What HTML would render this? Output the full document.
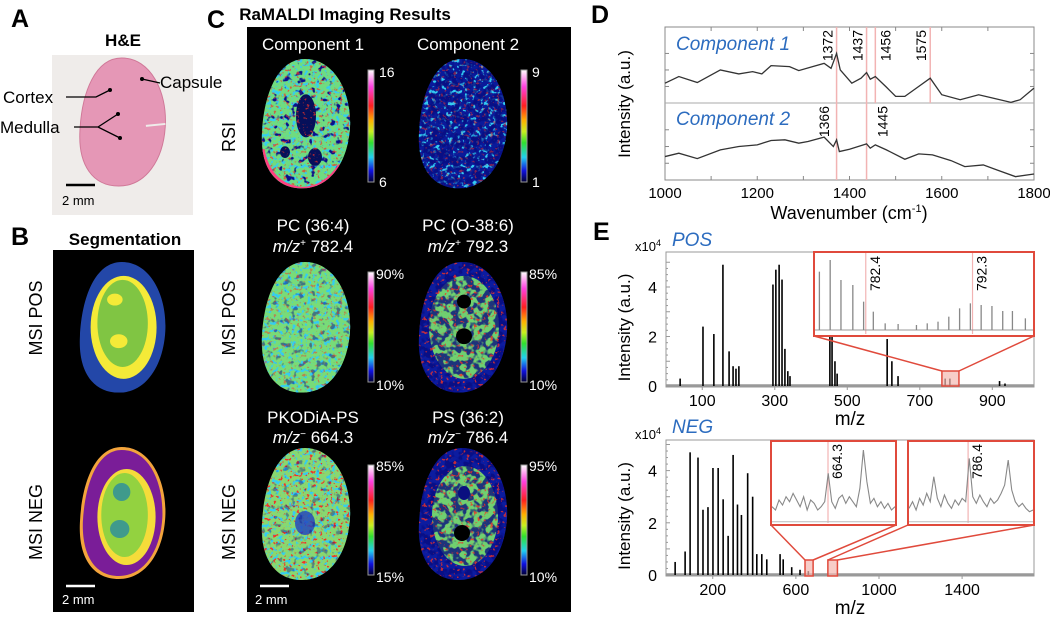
<!DOCTYPE html>
<html><head><meta charset="utf-8"><style>
html,body{margin:0;padding:0;background:#fff;}
svg{display:block;font-family:"Liberation Sans",Arial,sans-serif;}
</style></head><body>
<svg id="fig" width="1050" height="617" viewBox="0 0 1050 617" xmlns="http://www.w3.org/2000/svg">
<defs>
<clipPath id="kid" clipPathUnits="userSpaceOnUse"><path d="M45,0 C75,0 92,35 90,70 C88,105 70,132 42,132 C15,132 0,110 2,75 C4,35 18,0 45,0 Z"/></clipPath>
<linearGradient id="cbar" x1="0" y1="0" x2="0" y2="1">
<stop offset="0" stop-color="#ffffff"/><stop offset="0.15" stop-color="#ff40e0"/><stop offset="0.32" stop-color="#ff2020"/><stop offset="0.45" stop-color="#ffb000"/><stop offset="0.55" stop-color="#c8f020"/><stop offset="0.65" stop-color="#30e030"/><stop offset="0.78" stop-color="#20d0f0"/><stop offset="0.9" stop-color="#1010e0"/><stop offset="1" stop-color="#000033"/>
</linearGradient>
<filter id="nBlue" x="0" y="0" width="1" height="1" color-interpolation-filters="sRGB"><feTurbulence type="fractalNoise" baseFrequency="0.16" numOctaves="2" seed="3"/><feColorMatrix type="matrix" values="0 0 0 0 0.04  0 0 0 0 0.06  0 0 0 0 0.55  9 0 0 0 -5.4"/></filter>
<filter id="nBlueH" x="0" y="0" width="1" height="1" color-interpolation-filters="sRGB"><feTurbulence type="fractalNoise" baseFrequency="0.14" numOctaves="2" seed="7"/><feColorMatrix type="matrix" values="0 0 0 0 0.03  0 0 0 0 0.05  0 0 0 0 0.5  9 0 0 0 -4.1"/></filter>
<filter id="nRed" x="0" y="0" width="1" height="1" color-interpolation-filters="sRGB"><feTurbulence type="fractalNoise" baseFrequency="0.3" numOctaves="2" seed="11"/><feColorMatrix type="matrix" values="0 0 0 0 0.95  0 0 0 0 0.2  0 0 0 0 0.15  10 0 0 0 -6.2"/></filter>
<filter id="nCyan" x="0" y="0" width="1" height="1" color-interpolation-filters="sRGB"><feTurbulence type="fractalNoise" baseFrequency="0.25" numOctaves="2" seed="5"/><feColorMatrix type="matrix" values="0 0 0 0 0.2  0 0 0 0 0.8  0 0 0 0 0.95  9 0 0 0 -5.0"/></filter>
<filter id="nGreen" x="0" y="0" width="1" height="1" color-interpolation-filters="sRGB"><feTurbulence type="fractalNoise" baseFrequency="0.2" numOctaves="2" seed="9"/><feColorMatrix type="matrix" values="0 0 0 0 0.4  0 0 0 0 0.9  0 0 0 0 0.2  9 0 0 0 -4.8"/></filter>
</defs>

<!-- Panel A -->
<text x="11" y="27" font-size="25" font-weight="bold">A</text>
<text x="123" y="46" font-size="17" font-weight="bold" text-anchor="middle">H&amp;E</text>
<rect x="52" y="55" width="141" height="160" fill="#efecea"/>
<g transform="translate(78,58) scale(0.97,0.97)">
<path d="M45,0 C75,0 92,35 90,70 C88,105 70,132 42,132 C15,132 0,110 2,75 C4,35 18,0 45,0 Z" fill="#e597b6" stroke="#d07898" stroke-width="1"/>
<path d="M70,70 L90,68" stroke="#efecea" stroke-width="2"/>
</g>
<g stroke="#000" stroke-width="1.3" fill="none">
<path d="M66,97 L96,97 L110,90"/><path d="M142,79 L160,83"/><path d="M74,127 L98,127 L118,114 M98,127 L120,138"/>
</g>
<g fill="#000"><circle cx="110" cy="90" r="2"/><circle cx="142" cy="79" r="2"/><circle cx="118" cy="114" r="2"/><circle cx="120" cy="138" r="2"/></g>
<text x="3" y="103" font-size="17">Cortex</text>
<text x="0" y="133" font-size="17">Medulla</text>
<text x="160" y="88" font-size="17">Capsule</text>
<line x1="66" y1="185" x2="95" y2="185" stroke="#000" stroke-width="2.5"/>
<text x="62" y="205" font-size="13">2 mm</text>

<!-- Panel B -->
<text x="11" y="245" font-size="25" font-weight="bold">B</text>
<text x="125" y="245" font-size="17" font-weight="bold" text-anchor="middle">Segmentation</text>
<rect x="53" y="250" width="141" height="362" fill="#000"/>
<g transform="translate(78,262) scale(0.97,0.99)" clip-path="url(#kid)">
<rect width="95" height="135" fill="#2347a8"/>
<ellipse cx="47" cy="66" rx="34" ry="52" fill="#f4ea38"/>
<ellipse cx="46" cy="62" rx="26" ry="44" fill="#80c543"/>
<ellipse cx="38" cy="38" rx="8" ry="6" fill="#f4ea38"/><ellipse cx="42" cy="80" rx="9" ry="7" fill="#f4ea38"/>
</g>
<g transform="translate(78,447) scale(0.97,1.0)" clip-path="url(#kid)">
<rect width="95" height="135" fill="#f3a43c"/>
<path d="M45,3 C73,3 88,35 87,70 C85,104 68,129 42,129 C17,129 4,108 5,75 C7,37 20,3 45,3 Z" fill="#7a1d98"/>
<ellipse cx="50" cy="70" rx="30" ry="48" fill="#f5dc3a"/>
<ellipse cx="48" cy="68" rx="24" ry="42" fill="#93d240"/>
<ellipse cx="45" cy="45" rx="9" ry="9" fill="#3f9a8c"/><ellipse cx="43" cy="82" rx="10" ry="9" fill="#3f9a8c"/>
</g>
<text transform="translate(42,318) rotate(-90)" font-size="18" text-anchor="middle">MSI POS</text>
<text transform="translate(42,522) rotate(-90)" font-size="18" text-anchor="middle">MSI NEG</text>
<line x1="66" y1="586" x2="95" y2="586" stroke="#fff" stroke-width="2.5"/>
<text x="62" y="604" font-size="13" fill="#fff">2 mm</text>

<!-- Panel C -->
<text x="207" y="28" font-size="25" font-weight="bold">C</text>
<text x="345" y="20" font-size="17" font-weight="bold" text-anchor="middle">RaMALDI Imaging Results</text>
<rect x="247" y="27" width="324" height="585" fill="#000"/>
<text transform="translate(235,137) rotate(-90)" font-size="18" text-anchor="middle">RSI</text>
<text transform="translate(235,318) rotate(-90)" font-size="18" text-anchor="middle">MSI POS</text>
<text transform="translate(235,522) rotate(-90)" font-size="18" text-anchor="middle">MSI NEG</text>

<g fill="#fff" font-size="17" text-anchor="middle">
<text x="313" y="50">Component 1</text>
<text x="468" y="50">Component 2</text>
<text x="313" y="231">PC (36:4)</text>
<text x="313" y="252"><tspan font-style="italic">m/z</tspan><tspan font-size="10" dy="-6">+</tspan><tspan dy="6"> 782.4</tspan></text>
<text x="468" y="231">PC (O-38:6)</text>
<text x="468" y="252"><tspan font-style="italic">m/z</tspan><tspan font-size="10" dy="-6">+</tspan><tspan dy="6"> 792.3</tspan></text>
<text x="313" y="423">PKODiA-PS</text>
<text x="313" y="443"><tspan font-style="italic">m/z</tspan><tspan font-size="10" dy="-6">−</tspan><tspan dy="6"> 664.3</tspan></text>
<text x="468" y="423">PS (36:2)</text>
<text x="468" y="443"><tspan font-style="italic">m/z</tspan><tspan font-size="10" dy="-6">−</tspan><tspan dy="6"> 786.4</tspan></text>
</g>

<!-- images -->
<g transform="translate(260,59) scale(1.0,0.98)" clip-path="url(#kid)">
<rect width="95" height="135" fill="#6fdc80"/>
<rect width="95" height="135" fill="#fff" filter="url(#nCyan)"/>
<rect width="95" height="135" fill="#fff" filter="url(#nBlue)"/>
<ellipse cx="46" cy="58" rx="10" ry="22" fill="#06105a"/><ellipse cx="55" cy="100" rx="7" ry="9" fill="#06105a"/><ellipse cx="25" cy="95" rx="5" ry="6" fill="#06105a"/>
<rect width="95" height="135" fill="#fff" filter="url(#nRed)" opacity="0.7"/>
<path d="M3,92 C7,115 20,130 42,132 C60,132 72,120 80,108" stroke="#ff4080" stroke-width="3" fill="none"/>
</g>
<g transform="translate(417,59) scale(1.0,0.98)" clip-path="url(#kid)">
<rect width="95" height="135" fill="#0a1a9a"/>
<rect width="95" height="135" fill="#fff" filter="url(#nCyan)"/>
<rect width="95" height="135" fill="#fff" filter="url(#nBlueH)" opacity="0.8"/>
<rect width="95" height="135" fill="#fff" filter="url(#nRed)" opacity="0.5"/>
</g>
<g transform="translate(260,262) scale(1.0,0.99)" clip-path="url(#kid)">
<rect width="95" height="135" fill="#78dc78"/>
<rect width="95" height="135" fill="#fff" filter="url(#nCyan)"/>
<rect width="95" height="135" fill="#fff" filter="url(#nBlue)" opacity="0.5"/>
<rect width="95" height="135" fill="#fff" filter="url(#nRed)" opacity="0.5"/>
</g>
<g transform="translate(417,262) scale(1.0,0.99)" clip-path="url(#kid)">
<rect width="95" height="135" fill="#0c1ca0"/>
<ellipse cx="47" cy="66" rx="35" ry="52" fill="#6fd070"/>
<rect width="95" height="135" fill="#fff" filter="url(#nBlueH)" opacity="0.8"/>
<rect width="95" height="135" fill="#fff" filter="url(#nRed)" opacity="0.8"/>
<ellipse cx="47" cy="40" rx="7" ry="7" fill="#000"/><ellipse cx="47" cy="75" rx="8" ry="8" fill="#000"/>
</g>
<g transform="translate(260,448) scale(1.0,1.0)" clip-path="url(#kid)">
<rect width="95" height="135" fill="#88d870"/>
<rect width="95" height="135" fill="#fff" filter="url(#nCyan)"/>
<rect width="95" height="135" fill="#fff" filter="url(#nRed)"/>
<ellipse cx="45" cy="75" rx="10" ry="12" fill="#2040c0" opacity="0.8"/>
<rect width="95" height="135" fill="#fff" filter="url(#nBlue)" opacity="0.4"/>
</g>
<g transform="translate(417,448) scale(1.0,1.0)" clip-path="url(#kid)">
<rect width="95" height="135" fill="#0c1ca0"/>
<ellipse cx="48" cy="68" rx="33" ry="50" fill="#70d070"/>
<rect width="95" height="135" fill="#fff" filter="url(#nBlueH)" opacity="0.8"/>
<rect width="95" height="135" fill="#fff" filter="url(#nRed)" opacity="0.8"/>
<ellipse cx="47" cy="45" rx="6" ry="7" fill="#0a1080"/><ellipse cx="45" cy="85" rx="8" ry="8" fill="#000"/>
</g>

<!-- colorbars -->
<g stroke="#999" stroke-width="1">
<rect x="368" y="70" width="6" height="112" fill="url(#cbar)"/>
<rect x="521" y="70" width="6" height="112" fill="url(#cbar)"/>
<rect x="368" y="272" width="6" height="110" fill="url(#cbar)"/>
<rect x="521" y="272" width="6" height="110" fill="url(#cbar)"/>
<rect x="368" y="465" width="6" height="110" fill="url(#cbar)"/>
<rect x="521" y="465" width="6" height="110" fill="url(#cbar)"/>
</g>
<g fill="#fff" font-size="14">
<text x="379" y="77">16</text>
<text x="379" y="187">6</text>
<text x="532" y="77">9</text>
<text x="532" y="187">1</text>
<text x="376" y="279">90%</text>
<text x="376" y="390">10%</text>
<text x="529" y="279">85%</text>
<text x="529" y="390">10%</text>
<text x="376" y="471">85%</text>
<text x="376" y="582">15%</text>
<text x="529" y="471">95%</text>
<text x="529" y="582">10%</text>
</g>
<line x1="260" y1="586" x2="289" y2="586" stroke="#fff" stroke-width="2.5"/>
<text x="255" y="604" font-size="13" fill="#fff">2 mm</text>

<!-- Panel D/E static labels -->
<text x="591" y="23" font-size="25" font-weight="bold">D</text>
<text x="593" y="240" font-size="25" font-weight="bold">E</text>
<g id="charts"></g>
</svg>

<script>
// ---------- Panel D data ----------
const dWave1 = [1000,1030,1070,1120,1160,1190,1210,1230,1270,1290,1320,1345,1360,1372,1380,1405,1425,1437,1445,1456,1480,1500,1520,1545,1575,1600,1640,1680,1710,1750,1770,1800];
const dComp1 = [60,80,62,100,88,95,88,113,110,98,110,120,105,150,100,60,75,92,72,80,48,20,20,45,75,25,10,25,15,2,10,45];
const dWave2 = [1000,1030,1070,1120,1160,1200,1230,1260,1290,1310,1345,1365,1372,1378,1400,1437,1445,1456,1480,1520,1550,1580,1620,1650,1690,1720,1760,1800];
const dComp2 = [70,80,64,90,100,105,118,120,110,115,128,100,120,85,92,108,95,105,90,62,78,75,58,40,45,30,10,18];
const dLinesFull = [1372,1437];
const dLinesTop = [1456,1575];
const dLabels1 = [1372,1437,1456,1575];
const dLabels1Side = [-1,-1,1,-1];
const dLabels2 = [1366,1445];
const dLabels2Side = [-1,1];
const dXTicks = [1000,1200,1400,1600,1800];

// ---------- Panel E POS data ----------
const posMz = [39,102,132,157,174,185,193,201,295,303,312,320,328,336,342,452,458,466,472,610,623,640,770,783,920,935];
const posInt = [0.3,2.4,2.1,4.9,1.4,0.8,0.7,0.8,4.1,4.7,4.9,4.3,1.5,0.6,0.4,3.0,3.2,1.0,0.5,1.9,1.0,0.4,0.3,0.3,0.2,0.1];
const posInsetMz = [778.1,779.1,780.1,781.2,782.2,783.1,784.2,785.4,787.1,788.1,789.1,790.1,791.1,792.1,793.1,794.1,795.1,796.0,797.2];
const posInsetInt = [175,210,150,135,85,55,20,18,15,20,25,40,65,80,75,72,57,57,35];
const posInsetLabels = [782.4,792.3];
const posXTicks = [100,300,500,700,900];
const posYTicks = [0,2,4];

// ---------- Panel E NEG data ----------
const negMz = [19,67,91,129,153,177,201,226,250,274,298,319,338,368,392,412,436,460,524,539,580,620,660];
const negInt = [0.5,0.9,4.7,4.5,2.5,2.6,4.1,4.1,2.9,1.5,4.6,2.7,2.3,3.9,3.0,0.8,0.8,0.6,0.8,0.6,0.3,0.2,0.15];
const negInset1 = [45,35,65,50,75,60,85,65,45,75,35,65,55,35,45,60,145,60,40,70,80,55,75,60,45,100,215,120,55,70,45,60,40,55,35,45];
const negInset2 = [40,60,35,70,50,85,60,135,70,45,80,55,40,65,50,70,60,190,75,55,80,60,45,70,55,65,85,110,185,95,60,45,55,40,30,35];
const negInsetLabels = [664.3,786.4];
const negXTicks = [200,600,1000,1400];
const negYTicks = [0,2,4];

const NS = "http://www.w3.org/2000/svg";
const root = document.getElementById('charts');
function mk(tag, attrs, parent){
  const e = document.createElementNS(NS, tag);
  for (const k in attrs) e.setAttribute(k, attrs[k]);
  (parent||root).appendChild(e);
  return e;
}
function txt(s, attrs, parent){ const e = mk('text', attrs, parent); e.textContent = s; return e; }
function lin(d0,d1,r0,r1){ return v => r0 + (v-d0)/(d1-d0)*(r1-r0); }

// ===== Panel D =====
const dx = lin(1000,1800,665,1034);
const dy1 = lin(0,230,103,27);
const dy2 = lin(0,230,180,103);
let el;
el = mk('rect',{x:665,y:27,width:369,height:153,fill:'none',stroke:'#888','stroke-width':1});


el = mk('line',{x1:665,y1:103,x2:1034,y2:103,stroke:'#aaa','stroke-width':1});


for (let w=1000; w<=1800; w+=100){
  el = mk('line',{x1:dx(w),y1:180,x2:dx(w),y2:176,stroke:'#888'});
  
  
  el = mk('line',{x1:dx(w),y1:27,x2:dx(w),y2:31,stroke:'#888'});
  
  
}
[50,100,150].forEach(v=>{
  [dy1(v),dy2(v)].forEach(yy=>{
    el = mk('line',{x1:665,y1:yy,x2:669,y2:yy,stroke:'#888'});
    
    
    el = mk('line',{x1:1030,y1:yy,x2:1034,y2:yy,stroke:'#888'});
    
    
  });
});
dXTicks.forEach(t=>{
  el = txt(String(t),{x:dx(t),y:198,'font-size':15,'text-anchor':'middle'});
  
  
});
el = txt('',{x:849,y:219,'font-size':18,'text-anchor':'middle'});
el.innerHTML = 'Wavenumber (cm<tspan font-size="11" dy="-7">-1</tspan><tspan dy="7">)</tspan>';


el = txt('Intensity (a.u.)',{transform:'translate(630,104) rotate(-90)','font-size':17,'text-anchor':'middle'});


dLinesFull.forEach(w=>{
  el = mk('line',{x1:dx(w),y1:27,x2:dx(w),y2:180,stroke:'#f2b3b3','stroke-width':1.5});
  
  
});
dLinesTop.forEach(w=>{
  el = mk('line',{x1:dx(w),y1:27,x2:dx(w),y2:103,stroke:'#f2b3b3','stroke-width':1.5});
  
  
});
el = mk('polyline',{points:dWave1.map((w,i)=>dx(w)+','+dy1(dComp1[i])).join(' '),fill:'none',stroke:'#333','stroke-width':1.3});


el = mk('polyline',{points:dWave2.map((w,i)=>dx(w)+','+dy2(dComp2[i])).join(' '),fill:'none',stroke:'#333','stroke-width':1.3});


dLabels1.forEach((w,i)=>{
  const bx = dx(w) + (dLabels1Side[i]<0 ? -4 : 15);
  el = txt(String(w),{transform:`translate(${bx},30) rotate(-90)`,'font-size':14,'text-anchor':'end'});
  
  
});
dLabels2.forEach((w,i)=>{
  const bx = dx(w) + (dLabels2Side[i]<0 ? -5 : 17);
  el = txt(String(w),{transform:`translate(${bx},106) rotate(-90)`,'font-size':14,'text-anchor':'end'});
  
  
});
el = txt('Component 1',{x:676,y:50,'font-size':19,'font-style':'italic',fill:'#2c6cbf'});


el = txt('Component 2',{x:676,y:125,'font-size':19,'font-style':'italic',fill:'#2c6cbf'});



// ===== Panel E helper =====
function massPlot(cfg){
  const {x0,x1,y0,y1,xd0,xd1,unit,mz,ints,xticks,yticks,name} = cfg;
  const sx = lin(xd0,xd1,x0,x1);
  const sy = v => y1 - 1 - v*unit;
  let e;
  e = mk('rect',{x:x0,y:y0,width:x1-x0,height:y1-y0,fill:'none',stroke:'#999','stroke-width':1});
  
  
  for (let v=0; v<=5.2; v+=0.25){
    e = mk('line',{x1:x0,y1:sy(v),x2:x0+(Math.abs(v%1)<0.01?4:2),y2:sy(v),stroke:'#999'});
    
    
  }
  yticks.forEach(t=>{
    e = txt(String(t),{x:x0-9,y:sy(t)+6,'font-size':16,'text-anchor':'end'});
    
    
  });
  xticks.forEach(t=>{
    e = mk('line',{x1:sx(t),y1:y1,x2:sx(t),y2:y1+3,stroke:'#999'});
    
    
    e = txt(String(t),{x:sx(t),y:y1+19,'font-size':16,'text-anchor':'middle'});
    
    
  });
  e = mk('line',{x1:x0,y1:y1-1.5,x2:x1,y2:y1-1.5,stroke:'#999','stroke-width':2.5});
  
  
  mz.forEach((m,i)=>{
    e = mk('line',{x1:sx(m),y1:y1-1,x2:sx(m),y2:sy(ints[i]),stroke:'#000','stroke-width':1.6});
    
    
  });
  e = txt('x10',{x:x0-31,y:y0-1,'font-size':13});
  e.innerHTML = 'x10<tspan font-size="9" dy="-5">4</tspan>';
  
  
  e = txt('m/z',{x:(x0+x1)/2,y:y1+38,'font-size':19,'text-anchor':'middle'});
  
  
  e = txt('Intensity (a.u.)',{transform:`translate(630,${(y0+y1)/2+8}) rotate(-90)`,'font-size':17,'text-anchor':'middle'});
  
  
  return sx;
}
function zoomRect(sx, m0, m1, yTop, yBot, name){
  const e = mk('rect',{x:sx(m0),y:yTop,width:sx(m1)-sx(m0),height:yBot-yTop,fill:'#f4b8b0','fill-opacity':0.7,stroke:'#e04a3c','stroke-width':1.5});
  
  
  return [sx(m0), sx(m1)];
}
function connector(xa,ya,xb,yb,name){
  const e = mk('line',{x1:xa,y1:ya,x2:xb,y2:yb,stroke:'#e04a3c','stroke-width':1.5});
  
  
}

// ===== POS =====
const sxPos = massPlot({x0:666,x1:1034,y0:252,y1:387,xd0:0,xd1:1015,unit:24.75,mz:posMz,ints:posInt,xticks:posXTicks,yticks:posYTicks,name:'pos'});
el = txt('POS',{x:672,y:246,'font-size':19,'font-style':'italic',fill:'#2c6cbf'});


const posZ = zoomRect(sxPos, 761, 808, 371, 386, 'pos-zoom-region');
el = mk('rect',{x:814,y:252,width:220,height:84,fill:'#fff',stroke:'#e04a3c','stroke-width':2});


connector(posZ[0],371,814,336,'pos-inset-connector');
connector(posZ[1],371,1034,336,'pos-inset-connector');
const pix = lin(777.6,798,814,1034);
const piy = v => 330 - v/3;
posInsetLabels.forEach(m=>{
  el = mk('line',{x1:pix(m),y1:253,x2:pix(m),y2:334,stroke:'#f2b3b3','stroke-width':1.2});
  
  
  el = txt(String(m),{transform:`translate(${pix(m)+14},256) rotate(-90)`,'font-size':14,'text-anchor':'end'});
  
  
});
el = mk('line',{x1:815,y1:330,x2:1033,y2:330,stroke:'#999','stroke-width':1});


posInsetMz.forEach((m,i)=>{
  el = mk('line',{x1:pix(m),y1:330,x2:pix(m),y2:piy(posInsetInt[i]),stroke:'#888','stroke-width':1.3});
  
  
});

// ===== NEG =====
const sxNeg = massPlot({x0:666,x1:1034,y0:440,y1:576,xd0:-25,xd1:1746,unit:26.1,mz:negMz,ints:negInt,xticks:negXTicks,yticks:negYTicks,name:'neg'});
el = txt('NEG',{x:672,y:433,'font-size':19,'font-style':'italic',fill:'#2c6cbf'});


const nz1 = zoomRect(sxNeg, 644, 683, 560, 576, 'neg-zoom-region-1');
const nz2 = zoomRect(sxNeg, 754, 800, 560, 576, 'neg-zoom-region-2');
const insets = [
  {x0:771,x1:896,d0:647,d1:685,vals:negInset1,label:negInsetLabels[0],z:nz1,n:'neg-inset-1'},
  {x0:908,x1:1034,d0:764,d1:811,vals:negInset2,label:negInsetLabels[1],z:nz2,n:'neg-inset-2'}
];
insets.forEach(ins=>{
  el = mk('rect',{x:ins.x0,y:441,width:ins.x1-ins.x0,height:84,fill:'#fff',stroke:'#e04a3c','stroke-width':2});
  
  
  connector(ins.z[0],560,ins.x0,525,ins.n+'-connector');
  connector(ins.z[1],560,ins.x1,525,ins.n+'-connector');
  const ix = lin(ins.d0,ins.d1,ins.x0+1,ins.x1-1);
  const iy = v => 521.7 - v/3;
  el = mk('line',{x1:ix(ins.label),y1:442,x2:ix(ins.label),y2:523,stroke:'#f2b3b3','stroke-width':1.2});
  
  
  el = mk('line',{x1:ins.x0+1,y1:521.7,x2:ins.x1-1,y2:521.7,stroke:'#bbb','stroke-width':1});
  
  
  const step = (ins.d1-ins.d0)/(ins.vals.length-1);
  el = mk('polyline',{points:ins.vals.map((v,i)=>ix(ins.d0+i*step)+','+iy(v)).join(' '),fill:'none',stroke:'#888','stroke-width':1.1});
  
  
  el = txt(String(ins.label),{transform:`translate(${ix(ins.label)+14},444) rotate(-90)`,'font-size':14,'text-anchor':'end'});
  
  
});
</script>
</body></html>
